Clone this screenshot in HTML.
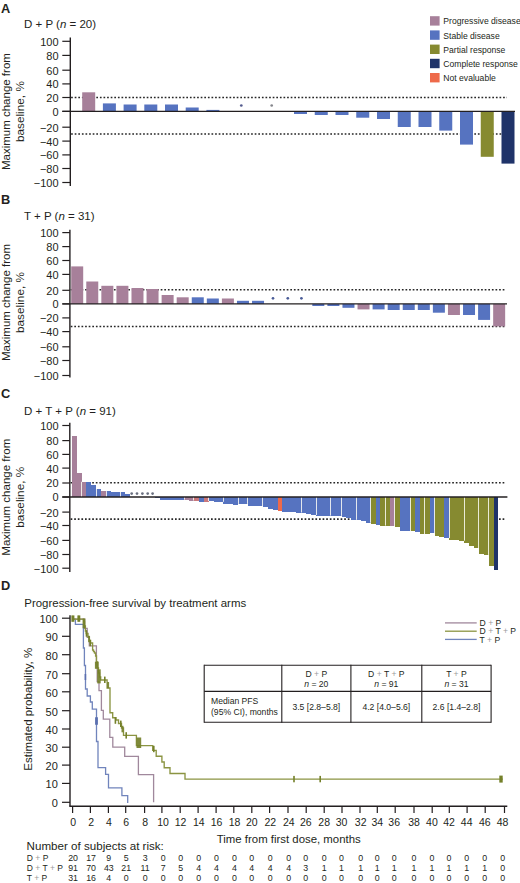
<!DOCTYPE html><html><head><meta charset="utf-8"><style>html,body{margin:0;padding:0;background:#fff;width:520px;height:883px;overflow:hidden}svg{display:block}</style></head><body>
<svg width="520" height="883" viewBox="0 0 520 883" font-family="'Liberation Sans', sans-serif">
<rect width="520" height="883" fill="#fff"/>
<text x="0.90" y="12.60" font-size="12.8" text-anchor="start" fill="#231f20" font-weight="bold">A</text>
<text x="24" y="27.90" font-size="11.5" fill="#231f20">D + P (<tspan font-style="italic">n</tspan> = 20)</text>
<line x1="71.10" y1="97.45" x2="507.00" y2="97.45" stroke="#262626" stroke-width="1.55" stroke-dasharray="1.7 1.9"/>
<line x1="71.10" y1="133.90" x2="507.00" y2="133.90" stroke="#262626" stroke-width="1.55" stroke-dasharray="1.7 1.9"/>
<rect x="82.20" y="92.30" width="13.00" height="19.05" fill="#a7809a" />
<rect x="102.90" y="103.40" width="13.00" height="7.95" fill="#5673c0" />
<rect x="123.60" y="104.50" width="13.00" height="6.85" fill="#5673c0" />
<rect x="144.30" y="104.50" width="13.00" height="6.85" fill="#5673c0" />
<rect x="165.00" y="104.50" width="13.00" height="6.85" fill="#5673c0" />
<rect x="185.70" y="107.50" width="13.00" height="3.85" fill="#5673c0" />
<rect x="206.40" y="109.90" width="13.00" height="1.45" fill="#5673c0" />
<rect x="294.00" y="111.35" width="13.00" height="2.65" fill="#5673c0" />
<rect x="314.75" y="111.35" width="13.00" height="3.65" fill="#5673c0" />
<rect x="335.50" y="111.35" width="13.00" height="3.65" fill="#5673c0" />
<rect x="356.25" y="111.35" width="13.00" height="6.35" fill="#5673c0" />
<rect x="377.00" y="111.35" width="13.00" height="7.65" fill="#5673c0" />
<rect x="397.75" y="111.35" width="13.00" height="15.65" fill="#5673c0" />
<rect x="418.50" y="111.35" width="13.00" height="15.65" fill="#5673c0" />
<rect x="439.25" y="111.35" width="13.00" height="19.25" fill="#5673c0" />
<rect x="460.00" y="111.35" width="13.00" height="33.25" fill="#5673c0" />
<rect x="480.75" y="111.35" width="13.00" height="45.45" fill="#868a30" />
<rect x="501.50" y="111.35" width="13.00" height="52.25" fill="#1f3369" />
<circle cx="241.30" cy="105.50" r="1.35" fill="#555c8f"/>
<circle cx="271.70" cy="105.50" r="1.35" fill="#85868c"/>
<line x1="62.30" y1="111.35" x2="515.00" y2="111.35" stroke="#231f20" stroke-width="1.3" />
<line x1="70.30" y1="37.50" x2="70.30" y2="186.10" stroke="#231f20" stroke-width="1.4" />
<line x1="62.30" y1="41.30" x2="70.30" y2="41.30" stroke="#231f20" stroke-width="1.2" />
<text x="58.60" y="45.70" font-size="11" text-anchor="end" fill="#231f20" >100</text>
<line x1="62.30" y1="55.40" x2="70.30" y2="55.40" stroke="#231f20" stroke-width="1.2" />
<text x="58.60" y="59.80" font-size="11" text-anchor="end" fill="#231f20" >80</text>
<line x1="62.30" y1="70.20" x2="70.30" y2="70.20" stroke="#231f20" stroke-width="1.2" />
<text x="58.60" y="74.60" font-size="11" text-anchor="end" fill="#231f20" >60</text>
<line x1="62.30" y1="83.90" x2="70.30" y2="83.90" stroke="#231f20" stroke-width="1.2" />
<text x="58.60" y="88.30" font-size="11" text-anchor="end" fill="#231f20" >40</text>
<line x1="62.30" y1="97.50" x2="70.30" y2="97.50" stroke="#231f20" stroke-width="1.2" />
<text x="58.60" y="101.90" font-size="11" text-anchor="end" fill="#231f20" >20</text>
<line x1="62.30" y1="111.35" x2="70.30" y2="111.35" stroke="#231f20" stroke-width="1.2" />
<text x="58.60" y="115.75" font-size="11" text-anchor="end" fill="#231f20" >0</text>
<line x1="62.30" y1="127.20" x2="70.30" y2="127.20" stroke="#231f20" stroke-width="1.2" />
<text x="58.60" y="131.60" font-size="11" text-anchor="end" fill="#231f20" >&#8722;20</text>
<line x1="62.30" y1="141.10" x2="70.30" y2="141.10" stroke="#231f20" stroke-width="1.2" />
<text x="58.60" y="145.50" font-size="11" text-anchor="end" fill="#231f20" >&#8722;40</text>
<line x1="62.30" y1="154.90" x2="70.30" y2="154.90" stroke="#231f20" stroke-width="1.2" />
<text x="58.60" y="159.30" font-size="11" text-anchor="end" fill="#231f20" >&#8722;60</text>
<line x1="62.30" y1="168.50" x2="70.30" y2="168.50" stroke="#231f20" stroke-width="1.2" />
<text x="58.60" y="172.90" font-size="11" text-anchor="end" fill="#231f20" >&#8722;80</text>
<line x1="62.30" y1="182.50" x2="70.30" y2="182.50" stroke="#231f20" stroke-width="1.2" />
<text x="58.60" y="186.90" font-size="11" text-anchor="end" fill="#231f20" >&#8722;100</text>
<text transform="translate(9.7,111.60) rotate(-90)" font-size="11.5" text-anchor="middle" fill="#231f20">Maximum change from</text>
<text transform="translate(23.6,111.60) rotate(-90)" font-size="11.8" text-anchor="middle" fill="#231f20">baseline, %</text>
<text x="0.90" y="203.70" font-size="12.8" text-anchor="start" fill="#231f20" font-weight="bold">B</text>
<text x="24" y="220.20" font-size="11.5" fill="#231f20">T + P (<tspan font-style="italic">n</tspan> = 31)</text>
<line x1="70.70" y1="289.80" x2="506.00" y2="289.80" stroke="#262626" stroke-width="1.55" stroke-dasharray="1.7 1.9"/>
<line x1="70.70" y1="326.50" x2="506.00" y2="326.50" stroke="#262626" stroke-width="1.55" stroke-dasharray="1.7 1.9"/>
<rect x="71.20" y="266.40" width="12.00" height="37.50" fill="#a7809a" />
<rect x="86.27" y="281.50" width="12.00" height="22.40" fill="#a7809a" />
<rect x="101.34" y="285.80" width="12.00" height="18.10" fill="#a7809a" />
<rect x="116.41" y="285.80" width="12.00" height="18.10" fill="#a7809a" />
<rect x="131.48" y="288.00" width="12.00" height="15.90" fill="#a7809a" />
<rect x="146.55" y="289.00" width="12.00" height="14.90" fill="#a7809a" />
<rect x="161.62" y="295.00" width="12.00" height="8.90" fill="#a7809a" />
<rect x="176.69" y="297.30" width="12.00" height="6.60" fill="#a7809a" />
<rect x="191.76" y="297.30" width="12.00" height="6.60" fill="#5673c0" />
<rect x="206.83" y="298.50" width="12.00" height="5.40" fill="#5673c0" />
<rect x="221.90" y="298.50" width="12.00" height="5.40" fill="#a7809a" />
<rect x="236.97" y="300.80" width="12.00" height="3.10" fill="#5673c0" />
<rect x="252.04" y="300.80" width="12.00" height="3.10" fill="#5673c0" />
<rect x="312.32" y="303.90" width="12.00" height="2.10" fill="#5673c0" />
<rect x="327.39" y="303.90" width="12.00" height="2.10" fill="#5673c0" />
<rect x="342.46" y="303.90" width="12.00" height="3.90" fill="#5673c0" />
<rect x="357.53" y="303.90" width="12.00" height="5.50" fill="#a7809a" />
<rect x="372.60" y="303.90" width="12.00" height="5.50" fill="#5673c0" />
<rect x="387.67" y="303.90" width="12.00" height="6.10" fill="#5673c0" />
<rect x="402.74" y="303.90" width="12.00" height="6.10" fill="#5673c0" />
<rect x="417.81" y="303.90" width="12.00" height="6.10" fill="#5673c0" />
<rect x="432.88" y="303.90" width="12.00" height="8.80" fill="#5673c0" />
<rect x="447.95" y="303.90" width="12.00" height="11.10" fill="#a7809a" />
<rect x="463.02" y="303.90" width="12.00" height="11.10" fill="#5673c0" />
<rect x="478.09" y="303.90" width="12.00" height="16.00" fill="#5673c0" />
<rect x="493.16" y="303.90" width="12.00" height="22.50" fill="#a7809a" />
<circle cx="273.00" cy="298.30" r="1.35" fill="#4a5c98"/>
<circle cx="287.80" cy="298.30" r="1.35" fill="#4a5c98"/>
<circle cx="301.40" cy="298.30" r="1.35" fill="#4a5c98"/>
<line x1="62.30" y1="303.90" x2="507.00" y2="303.90" stroke="#231f20" stroke-width="1.3" />
<line x1="69.90" y1="229.70" x2="69.90" y2="377.50" stroke="#231f20" stroke-width="1.4" />
<line x1="62.30" y1="232.60" x2="69.90" y2="232.60" stroke="#231f20" stroke-width="1.2" />
<text x="58.60" y="237.00" font-size="11" text-anchor="end" fill="#231f20" >100</text>
<line x1="62.30" y1="246.60" x2="69.90" y2="246.60" stroke="#231f20" stroke-width="1.2" />
<text x="58.60" y="251.00" font-size="11" text-anchor="end" fill="#231f20" >80</text>
<line x1="62.30" y1="260.50" x2="69.90" y2="260.50" stroke="#231f20" stroke-width="1.2" />
<text x="58.60" y="264.90" font-size="11" text-anchor="end" fill="#231f20" >60</text>
<line x1="62.30" y1="274.40" x2="69.90" y2="274.40" stroke="#231f20" stroke-width="1.2" />
<text x="58.60" y="278.80" font-size="11" text-anchor="end" fill="#231f20" >40</text>
<line x1="62.30" y1="290.30" x2="69.90" y2="290.30" stroke="#231f20" stroke-width="1.2" />
<text x="58.60" y="294.70" font-size="11" text-anchor="end" fill="#231f20" >20</text>
<line x1="62.30" y1="303.90" x2="69.90" y2="303.90" stroke="#231f20" stroke-width="1.2" />
<text x="58.60" y="308.30" font-size="11" text-anchor="end" fill="#231f20" >0</text>
<line x1="62.30" y1="317.90" x2="69.90" y2="317.90" stroke="#231f20" stroke-width="1.2" />
<text x="58.60" y="322.30" font-size="11" text-anchor="end" fill="#231f20" >&#8722;20</text>
<line x1="62.30" y1="331.60" x2="69.90" y2="331.60" stroke="#231f20" stroke-width="1.2" />
<text x="58.60" y="336.00" font-size="11" text-anchor="end" fill="#231f20" >&#8722;40</text>
<line x1="62.30" y1="346.80" x2="69.90" y2="346.80" stroke="#231f20" stroke-width="1.2" />
<text x="58.60" y="351.20" font-size="11" text-anchor="end" fill="#231f20" >&#8722;60</text>
<line x1="62.30" y1="360.50" x2="69.90" y2="360.50" stroke="#231f20" stroke-width="1.2" />
<text x="58.60" y="364.90" font-size="11" text-anchor="end" fill="#231f20" >&#8722;80</text>
<line x1="62.30" y1="375.50" x2="69.90" y2="375.50" stroke="#231f20" stroke-width="1.2" />
<text x="58.60" y="379.90" font-size="11" text-anchor="end" fill="#231f20" >&#8722;100</text>
<text transform="translate(9.7,302.50) rotate(-90)" font-size="11.5" text-anchor="middle" fill="#231f20">Maximum change from</text>
<text transform="translate(23.6,302.50) rotate(-90)" font-size="11.8" text-anchor="middle" fill="#231f20">baseline, %</text>
<text x="0.90" y="397.50" font-size="12.8" text-anchor="start" fill="#231f20" font-weight="bold">C</text>
<text x="24" y="414.50" font-size="11.5" fill="#231f20">D + T + P (<tspan font-style="italic">n</tspan> = 91)</text>
<line x1="70.60" y1="482.70" x2="505.60" y2="482.70" stroke="#262626" stroke-width="1.55" stroke-dasharray="1.7 1.9"/>
<line x1="70.60" y1="519.10" x2="505.60" y2="519.10" stroke="#262626" stroke-width="1.55" stroke-dasharray="1.7 1.9"/>
<rect x="72.30" y="435.90" width="4.70" height="61.10" fill="#a7809a" shape-rendering="crispEdges"/>
<rect x="77.00" y="473.10" width="4.60" height="23.90" fill="#a7809a" shape-rendering="crispEdges"/>
<rect x="81.60" y="481.80" width="4.70" height="15.20" fill="#a7809a" shape-rendering="crispEdges"/>
<rect x="86.30" y="482.10" width="4.70" height="14.90" fill="#5673c0" shape-rendering="crispEdges"/>
<rect x="91.00" y="485.20" width="5.30" height="11.80" fill="#5673c0" shape-rendering="crispEdges"/>
<rect x="96.30" y="489.00" width="4.70" height="8.00" fill="#5673c0" shape-rendering="crispEdges"/>
<rect x="101.00" y="491.10" width="4.80" height="5.90" fill="#a7809a" shape-rendering="crispEdges"/>
<rect x="105.80" y="491.10" width="4.80" height="5.90" fill="#5673c0" shape-rendering="crispEdges"/>
<rect x="110.60" y="491.60" width="5.00" height="5.40" fill="#5673c0" shape-rendering="crispEdges"/>
<rect x="115.60" y="492.00" width="5.00" height="5.00" fill="#5673c0" shape-rendering="crispEdges"/>
<rect x="120.60" y="492.00" width="4.80" height="5.00" fill="#5673c0" shape-rendering="crispEdges"/>
<rect x="125.40" y="494.00" width="4.80" height="3.00" fill="#5673c0" shape-rendering="crispEdges"/>
<rect x="154.80" y="497.00" width="4.90" height="1.20" fill="#5673c0" shape-rendering="crispEdges"/>
<rect x="159.70" y="497.00" width="4.90" height="2.60" fill="#5673c0" shape-rendering="crispEdges"/>
<rect x="164.60" y="497.00" width="4.90" height="2.60" fill="#5673c0" shape-rendering="crispEdges"/>
<rect x="169.50" y="497.00" width="4.90" height="2.60" fill="#5673c0" shape-rendering="crispEdges"/>
<rect x="174.40" y="497.00" width="5.00" height="2.60" fill="#5673c0" shape-rendering="crispEdges"/>
<rect x="179.40" y="497.00" width="5.00" height="2.60" fill="#5673c0" shape-rendering="crispEdges"/>
<rect x="184.40" y="497.00" width="4.80" height="3.00" fill="#a7809a" shape-rendering="crispEdges"/>
<rect x="189.20" y="497.00" width="4.40" height="3.50" fill="#a7809a" shape-rendering="crispEdges"/>
<rect x="193.60" y="497.00" width="5.20" height="3.80" fill="#c9787c" shape-rendering="crispEdges"/>
<rect x="198.80" y="497.00" width="5.20" height="4.50" fill="#5673c0" shape-rendering="crispEdges"/>
<rect x="204.00" y="497.00" width="4.70" height="4.50" fill="#c9787c" shape-rendering="crispEdges"/>
<rect x="208.70" y="497.00" width="4.90" height="4.00" fill="#5673c0" shape-rendering="crispEdges"/>
<rect x="213.60" y="497.00" width="4.90" height="4.80" fill="#5673c0" shape-rendering="crispEdges"/>
<rect x="218.50" y="497.00" width="4.90" height="4.80" fill="#5673c0" shape-rendering="crispEdges"/>
<rect x="223.40" y="497.00" width="4.90" height="6.50" fill="#5673c0" shape-rendering="crispEdges"/>
<rect x="228.30" y="497.00" width="4.90" height="7.00" fill="#5673c0" shape-rendering="crispEdges"/>
<rect x="233.20" y="497.00" width="4.90" height="7.50" fill="#5673c0" shape-rendering="crispEdges"/>
<rect x="238.10" y="497.00" width="4.80" height="6.90" fill="#5673c0" shape-rendering="crispEdges"/>
<rect x="242.90" y="497.00" width="4.70" height="6.90" fill="#5673c0" shape-rendering="crispEdges"/>
<rect x="247.60" y="497.00" width="5.00" height="9.10" fill="#5673c0" shape-rendering="crispEdges"/>
<rect x="252.60" y="497.00" width="5.00" height="9.10" fill="#5673c0" shape-rendering="crispEdges"/>
<rect x="257.60" y="497.00" width="5.00" height="9.40" fill="#5673c0" shape-rendering="crispEdges"/>
<rect x="262.60" y="497.00" width="5.00" height="10.30" fill="#5673c0" shape-rendering="crispEdges"/>
<rect x="267.60" y="497.00" width="5.00" height="11.50" fill="#5673c0" shape-rendering="crispEdges"/>
<rect x="272.60" y="497.00" width="5.10" height="12.60" fill="#5673c0" shape-rendering="crispEdges"/>
<rect x="277.70" y="497.00" width="3.80" height="14.30" fill="#ee6a4a" shape-rendering="crispEdges"/>
<rect x="281.50" y="497.00" width="4.90" height="14.60" fill="#5673c0" shape-rendering="crispEdges"/>
<rect x="286.40" y="497.00" width="4.90" height="14.80" fill="#5673c0" shape-rendering="crispEdges"/>
<rect x="291.30" y="497.00" width="4.90" height="15.20" fill="#5673c0" shape-rendering="crispEdges"/>
<rect x="296.20" y="497.00" width="5.30" height="15.50" fill="#5673c0" shape-rendering="crispEdges"/>
<rect x="301.50" y="497.00" width="4.90" height="16.40" fill="#5673c0" shape-rendering="crispEdges"/>
<rect x="306.40" y="497.00" width="4.90" height="17.20" fill="#5673c0" shape-rendering="crispEdges"/>
<rect x="311.30" y="497.00" width="5.00" height="18.00" fill="#5673c0" shape-rendering="crispEdges"/>
<rect x="316.30" y="497.00" width="4.90" height="19.00" fill="#5673c0" shape-rendering="crispEdges"/>
<rect x="321.20" y="497.00" width="4.90" height="19.00" fill="#5673c0" shape-rendering="crispEdges"/>
<rect x="326.10" y="497.00" width="4.90" height="19.00" fill="#5673c0" shape-rendering="crispEdges"/>
<rect x="331.00" y="497.00" width="5.20" height="18.60" fill="#5673c0" shape-rendering="crispEdges"/>
<rect x="336.20" y="497.00" width="5.30" height="18.80" fill="#5673c0" shape-rendering="crispEdges"/>
<rect x="341.50" y="497.00" width="4.80" height="19.50" fill="#5673c0" shape-rendering="crispEdges"/>
<rect x="346.30" y="497.00" width="4.90" height="21.00" fill="#5673c0" shape-rendering="crispEdges"/>
<rect x="351.20" y="497.00" width="4.80" height="23.00" fill="#5673c0" shape-rendering="crispEdges"/>
<rect x="356.00" y="497.00" width="5.00" height="22.80" fill="#5673c0" shape-rendering="crispEdges"/>
<rect x="361.00" y="497.00" width="4.90" height="24.30" fill="#5673c0" shape-rendering="crispEdges"/>
<rect x="365.90" y="497.00" width="4.90" height="25.70" fill="#5673c0" shape-rendering="crispEdges"/>
<rect x="370.80" y="497.00" width="4.80" height="26.70" fill="#868a30" shape-rendering="crispEdges"/>
<rect x="375.60" y="497.00" width="4.80" height="27.60" fill="#5673c0" shape-rendering="crispEdges"/>
<rect x="380.40" y="497.00" width="4.80" height="28.60" fill="#868a30" shape-rendering="crispEdges"/>
<rect x="385.20" y="497.00" width="4.90" height="28.60" fill="#868a30" shape-rendering="crispEdges"/>
<rect x="390.10" y="497.00" width="4.90" height="29.20" fill="#a7809a" shape-rendering="crispEdges"/>
<rect x="395.00" y="497.00" width="4.90" height="30.10" fill="#868a30" shape-rendering="crispEdges"/>
<rect x="399.90" y="497.00" width="5.00" height="34.30" fill="#5673c0" shape-rendering="crispEdges"/>
<rect x="404.90" y="497.00" width="5.10" height="34.30" fill="#5673c0" shape-rendering="crispEdges"/>
<rect x="410.00" y="497.00" width="4.80" height="34.00" fill="#868a30" shape-rendering="crispEdges"/>
<rect x="414.80" y="497.00" width="4.90" height="35.00" fill="#5673c0" shape-rendering="crispEdges"/>
<rect x="419.70" y="497.00" width="4.90" height="37.20" fill="#868a30" shape-rendering="crispEdges"/>
<rect x="424.60" y="497.00" width="4.90" height="37.10" fill="#868a30" shape-rendering="crispEdges"/>
<rect x="429.50" y="497.00" width="5.00" height="36.30" fill="#5673c0" shape-rendering="crispEdges"/>
<rect x="434.50" y="497.00" width="4.90" height="38.90" fill="#868a30" shape-rendering="crispEdges"/>
<rect x="439.40" y="497.00" width="4.90" height="40.00" fill="#868a30" shape-rendering="crispEdges"/>
<rect x="444.30" y="497.00" width="5.00" height="41.10" fill="#5673c0" shape-rendering="crispEdges"/>
<rect x="449.30" y="497.00" width="4.90" height="42.80" fill="#868a30" shape-rendering="crispEdges"/>
<rect x="454.20" y="497.00" width="4.90" height="42.80" fill="#868a30" shape-rendering="crispEdges"/>
<rect x="459.10" y="497.00" width="4.90" height="43.70" fill="#868a30" shape-rendering="crispEdges"/>
<rect x="464.00" y="497.00" width="5.00" height="45.80" fill="#868a30" shape-rendering="crispEdges"/>
<rect x="469.00" y="497.00" width="5.00" height="49.20" fill="#868a30" shape-rendering="crispEdges"/>
<rect x="474.00" y="497.00" width="5.00" height="51.00" fill="#868a30" shape-rendering="crispEdges"/>
<rect x="479.00" y="497.00" width="5.00" height="56.70" fill="#868a30" shape-rendering="crispEdges"/>
<rect x="484.00" y="497.00" width="5.00" height="57.90" fill="#868a30" shape-rendering="crispEdges"/>
<rect x="489.00" y="497.00" width="4.60" height="69.20" fill="#868a30" shape-rendering="crispEdges"/>
<rect x="493.60" y="497.00" width="4.80" height="73.20" fill="#1f3369" shape-rendering="crispEdges"/>
<circle cx="131.70" cy="493.60" r="1.35" fill="#6b7080"/>
<circle cx="137.00" cy="493.60" r="1.35" fill="#6b7080"/>
<circle cx="142.40" cy="493.60" r="1.35" fill="#6b7080"/>
<circle cx="147.70" cy="493.60" r="1.35" fill="#6b7080"/>
<circle cx="152.60" cy="493.60" r="1.35" fill="#6b7080"/>
<line x1="62.30" y1="497.00" x2="507.40" y2="497.00" stroke="#231f20" stroke-width="1.3" />
<line x1="69.80" y1="422.70" x2="69.80" y2="571.90" stroke="#231f20" stroke-width="1.4" />
<line x1="62.30" y1="425.50" x2="69.80" y2="425.50" stroke="#231f20" stroke-width="1.2" />
<text x="58.60" y="429.90" font-size="11" text-anchor="end" fill="#231f20" >100</text>
<line x1="62.30" y1="440.60" x2="69.80" y2="440.60" stroke="#231f20" stroke-width="1.2" />
<text x="58.60" y="445.00" font-size="11" text-anchor="end" fill="#231f20" >80</text>
<line x1="62.30" y1="454.40" x2="69.80" y2="454.40" stroke="#231f20" stroke-width="1.2" />
<text x="58.60" y="458.80" font-size="11" text-anchor="end" fill="#231f20" >60</text>
<line x1="62.30" y1="468.10" x2="69.80" y2="468.10" stroke="#231f20" stroke-width="1.2" />
<text x="58.60" y="472.50" font-size="11" text-anchor="end" fill="#231f20" >40</text>
<line x1="62.30" y1="483.00" x2="69.80" y2="483.00" stroke="#231f20" stroke-width="1.2" />
<text x="58.60" y="487.40" font-size="11" text-anchor="end" fill="#231f20" >20</text>
<line x1="62.30" y1="497.00" x2="69.80" y2="497.00" stroke="#231f20" stroke-width="1.2" />
<text x="58.60" y="501.40" font-size="11" text-anchor="end" fill="#231f20" >0</text>
<line x1="62.30" y1="512.10" x2="69.80" y2="512.10" stroke="#231f20" stroke-width="1.2" />
<text x="58.60" y="516.50" font-size="11" text-anchor="end" fill="#231f20" >&#8722;20</text>
<line x1="62.30" y1="525.50" x2="69.80" y2="525.50" stroke="#231f20" stroke-width="1.2" />
<text x="58.60" y="529.90" font-size="11" text-anchor="end" fill="#231f20" >&#8722;40</text>
<line x1="62.30" y1="540.40" x2="69.80" y2="540.40" stroke="#231f20" stroke-width="1.2" />
<text x="58.60" y="544.80" font-size="11" text-anchor="end" fill="#231f20" >&#8722;60</text>
<line x1="62.30" y1="554.50" x2="69.80" y2="554.50" stroke="#231f20" stroke-width="1.2" />
<text x="58.60" y="558.90" font-size="11" text-anchor="end" fill="#231f20" >&#8722;80</text>
<line x1="62.30" y1="568.20" x2="69.80" y2="568.20" stroke="#231f20" stroke-width="1.2" />
<text x="58.60" y="572.60" font-size="11" text-anchor="end" fill="#231f20" >&#8722;100</text>
<text transform="translate(9.7,497.20) rotate(-90)" font-size="11.5" text-anchor="middle" fill="#231f20">Maximum change from</text>
<text transform="translate(23.6,497.20) rotate(-90)" font-size="11.8" text-anchor="middle" fill="#231f20">baseline, %</text>
<rect x="81" y="481.80" width="1" height="14.40" fill="#fbfbf4" opacity="0.85"/>
<rect x="96" y="489.00" width="1" height="7.20" fill="#fbfbf4" opacity="0.85"/>
<rect x="106" y="491.10" width="1" height="5.10" fill="#fbfbf4" opacity="0.85"/>
<rect x="120" y="492.00" width="1" height="4.20" fill="#fbfbf4" opacity="0.85"/>
<rect x="184" y="497.80" width="1" height="1.80" fill="#fbfbf4" opacity="0.85"/>
<rect x="193" y="497.80" width="1" height="2.70" fill="#fbfbf4" opacity="0.85"/>
<rect x="208" y="497.80" width="1" height="3.20" fill="#fbfbf4" opacity="0.85"/>
<rect x="223" y="497.80" width="1" height="4.00" fill="#fbfbf4" opacity="0.85"/>
<rect x="238" y="497.80" width="1" height="6.10" fill="#fbfbf4" opacity="0.85"/>
<rect x="247" y="497.80" width="1" height="6.10" fill="#fbfbf4" opacity="0.85"/>
<rect x="262" y="497.80" width="1" height="8.60" fill="#fbfbf4" opacity="0.85"/>
<rect x="301" y="497.80" width="1" height="14.70" fill="#fbfbf4" opacity="0.85"/>
<rect x="316" y="497.80" width="1" height="17.20" fill="#fbfbf4" opacity="0.85"/>
<rect x="330" y="497.80" width="1" height="17.80" fill="#fbfbf4" opacity="0.85"/>
<rect x="341" y="497.80" width="1" height="18.00" fill="#fbfbf4" opacity="0.85"/>
<rect x="356" y="497.80" width="1" height="22.00" fill="#fbfbf4" opacity="0.85"/>
<rect x="370" y="497.80" width="1" height="24.90" fill="#fbfbf4" opacity="0.85"/>
<rect x="385" y="497.80" width="1" height="27.80" fill="#fbfbf4" opacity="0.85"/>
<rect x="394" y="497.80" width="1" height="28.40" fill="#fbfbf4" opacity="0.85"/>
<rect x="410" y="497.80" width="1" height="33.20" fill="#fbfbf4" opacity="0.85"/>
<rect x="424" y="497.80" width="1" height="36.30" fill="#fbfbf4" opacity="0.85"/>
<rect x="434" y="497.80" width="1" height="35.50" fill="#fbfbf4" opacity="0.85"/>
<rect x="449" y="497.80" width="1" height="40.30" fill="#fbfbf4" opacity="0.85"/>
<rect x="464" y="497.80" width="1" height="42.90" fill="#fbfbf4" opacity="0.85"/>
<rect x="478" y="497.80" width="1" height="50.20" fill="#fbfbf4" opacity="0.85"/>
<rect x="488" y="497.80" width="1" height="57.10" fill="#fbfbf4" opacity="0.85"/>
<rect x="430.00" y="16.20" width="9.60" height="9.40" fill="#a7809a" />
<text x="443.30" y="24.40" font-size="8.6" text-anchor="start" fill="#231f20" >Progressive disease</text>
<rect x="430.00" y="30.40" width="9.60" height="9.40" fill="#5673c0" />
<text x="443.30" y="38.60" font-size="8.6" text-anchor="start" fill="#231f20" >Stable disease</text>
<rect x="430.00" y="44.60" width="9.60" height="9.40" fill="#868a30" />
<text x="443.30" y="52.80" font-size="8.6" text-anchor="start" fill="#231f20" >Partial response</text>
<rect x="430.00" y="58.80" width="9.60" height="9.40" fill="#1f3369" />
<text x="443.30" y="67.00" font-size="8.6" text-anchor="start" fill="#231f20" >Complete response</text>
<rect x="430.00" y="73.00" width="9.60" height="9.40" fill="#ee6a4a" />
<text x="443.30" y="81.20" font-size="8.6" text-anchor="start" fill="#231f20" >Not evaluable</text>
<text x="0.90" y="589.70" font-size="12.8" text-anchor="start" fill="#231f20" font-weight="bold">D</text>
<text x="24.30" y="607.40" font-size="11.45" text-anchor="start" fill="#231f20" >Progression-free survival by treatment arms</text>
<line x1="70.00" y1="615.20" x2="70.00" y2="806.30" stroke="#231f20" stroke-width="1.4" />
<line x1="62.00" y1="802.30" x2="70.00" y2="802.30" stroke="#231f20" stroke-width="1.2" />
<text x="57.80" y="807.10" font-size="11" text-anchor="end" fill="#231f20" >0</text>
<line x1="62.00" y1="783.40" x2="70.00" y2="783.40" stroke="#231f20" stroke-width="1.2" />
<text x="57.80" y="788.20" font-size="11" text-anchor="end" fill="#231f20" >10</text>
<line x1="62.00" y1="765.10" x2="70.00" y2="765.10" stroke="#231f20" stroke-width="1.2" />
<text x="57.80" y="769.90" font-size="11" text-anchor="end" fill="#231f20" >20</text>
<line x1="62.00" y1="747.20" x2="70.00" y2="747.20" stroke="#231f20" stroke-width="1.2" />
<text x="57.80" y="752.00" font-size="11" text-anchor="end" fill="#231f20" >30</text>
<line x1="62.00" y1="729.00" x2="70.00" y2="729.00" stroke="#231f20" stroke-width="1.2" />
<text x="57.80" y="733.80" font-size="11" text-anchor="end" fill="#231f20" >40</text>
<line x1="62.00" y1="710.70" x2="70.00" y2="710.70" stroke="#231f20" stroke-width="1.2" />
<text x="57.80" y="715.50" font-size="11" text-anchor="end" fill="#231f20" >50</text>
<line x1="62.00" y1="691.80" x2="70.00" y2="691.80" stroke="#231f20" stroke-width="1.2" />
<text x="57.80" y="696.60" font-size="11" text-anchor="end" fill="#231f20" >60</text>
<line x1="62.00" y1="673.70" x2="70.00" y2="673.70" stroke="#231f20" stroke-width="1.2" />
<text x="57.80" y="678.50" font-size="11" text-anchor="end" fill="#231f20" >70</text>
<line x1="62.00" y1="654.70" x2="70.00" y2="654.70" stroke="#231f20" stroke-width="1.2" />
<text x="57.80" y="659.50" font-size="11" text-anchor="end" fill="#231f20" >80</text>
<line x1="62.00" y1="636.30" x2="70.00" y2="636.30" stroke="#231f20" stroke-width="1.2" />
<text x="57.80" y="641.10" font-size="11" text-anchor="end" fill="#231f20" >90</text>
<line x1="62.00" y1="618.20" x2="70.00" y2="618.20" stroke="#231f20" stroke-width="1.2" />
<text x="57.80" y="623.00" font-size="11" text-anchor="end" fill="#231f20" >100</text>
<text transform="translate(31.6,709.2) rotate(-90)" font-size="11.55" text-anchor="middle" fill="#231f20">Estimated probability, %</text>
<line x1="69.30" y1="806.30" x2="507.30" y2="806.30" stroke="#231f20" stroke-width="1.4" />
<line x1="72.60" y1="806.30" x2="72.60" y2="813.00" stroke="#231f20" stroke-width="1.2" />
<text x="73.10" y="826.00" font-size="10.5" text-anchor="middle" fill="#231f20" >0</text>
<line x1="90.40" y1="806.30" x2="90.40" y2="813.00" stroke="#231f20" stroke-width="1.2" />
<text x="91.10" y="826.00" font-size="10.5" text-anchor="middle" fill="#231f20" >2</text>
<line x1="108.40" y1="806.30" x2="108.40" y2="813.00" stroke="#231f20" stroke-width="1.2" />
<text x="108.80" y="826.00" font-size="10.5" text-anchor="middle" fill="#231f20" >4</text>
<line x1="125.70" y1="806.30" x2="125.70" y2="813.00" stroke="#231f20" stroke-width="1.2" />
<text x="126.20" y="826.00" font-size="10.5" text-anchor="middle" fill="#231f20" >6</text>
<line x1="144.60" y1="806.30" x2="144.60" y2="813.00" stroke="#231f20" stroke-width="1.2" />
<text x="145.10" y="826.00" font-size="10.5" text-anchor="middle" fill="#231f20" >8</text>
<line x1="161.90" y1="806.30" x2="161.90" y2="813.00" stroke="#231f20" stroke-width="1.2" />
<text x="163.10" y="826.00" font-size="10.5" text-anchor="middle" fill="#231f20" >10</text>
<line x1="180.20" y1="806.30" x2="180.20" y2="813.00" stroke="#231f20" stroke-width="1.2" />
<text x="180.60" y="826.00" font-size="10.5" text-anchor="middle" fill="#231f20" >12</text>
<line x1="198.10" y1="806.30" x2="198.10" y2="813.00" stroke="#231f20" stroke-width="1.2" />
<text x="198.80" y="826.00" font-size="10.5" text-anchor="middle" fill="#231f20" >14</text>
<line x1="216.10" y1="806.30" x2="216.10" y2="813.00" stroke="#231f20" stroke-width="1.2" />
<text x="216.50" y="826.00" font-size="10.5" text-anchor="middle" fill="#231f20" >16</text>
<line x1="233.80" y1="806.30" x2="233.80" y2="813.00" stroke="#231f20" stroke-width="1.2" />
<text x="234.50" y="826.00" font-size="10.5" text-anchor="middle" fill="#231f20" >18</text>
<line x1="251.80" y1="806.30" x2="251.80" y2="813.00" stroke="#231f20" stroke-width="1.2" />
<text x="251.80" y="826.00" font-size="10.5" text-anchor="middle" fill="#231f20" >20</text>
<line x1="269.60" y1="806.30" x2="269.60" y2="813.00" stroke="#231f20" stroke-width="1.2" />
<text x="270.30" y="826.00" font-size="10.5" text-anchor="middle" fill="#231f20" >22</text>
<line x1="288.00" y1="806.30" x2="288.00" y2="813.00" stroke="#231f20" stroke-width="1.2" />
<text x="288.80" y="826.00" font-size="10.5" text-anchor="middle" fill="#231f20" >24</text>
<line x1="306.20" y1="806.30" x2="306.20" y2="813.00" stroke="#231f20" stroke-width="1.2" />
<text x="305.80" y="826.00" font-size="10.5" text-anchor="middle" fill="#231f20" >26</text>
<line x1="324.20" y1="806.30" x2="324.20" y2="813.00" stroke="#231f20" stroke-width="1.2" />
<text x="324.20" y="826.00" font-size="10.5" text-anchor="middle" fill="#231f20" >28</text>
<line x1="342.00" y1="806.30" x2="342.00" y2="813.00" stroke="#231f20" stroke-width="1.2" />
<text x="341.50" y="826.00" font-size="10.5" text-anchor="middle" fill="#231f20" >30</text>
<line x1="360.00" y1="806.30" x2="360.00" y2="813.00" stroke="#231f20" stroke-width="1.2" />
<text x="360.70" y="826.00" font-size="10.5" text-anchor="middle" fill="#231f20" >32</text>
<line x1="377.30" y1="806.30" x2="377.30" y2="813.00" stroke="#231f20" stroke-width="1.2" />
<text x="377.30" y="826.00" font-size="10.5" text-anchor="middle" fill="#231f20" >34</text>
<line x1="395.20" y1="806.30" x2="395.20" y2="813.00" stroke="#231f20" stroke-width="1.2" />
<text x="394.20" y="826.00" font-size="10.5" text-anchor="middle" fill="#231f20" >36</text>
<line x1="414.00" y1="806.30" x2="414.00" y2="813.00" stroke="#231f20" stroke-width="1.2" />
<text x="414.00" y="826.00" font-size="10.5" text-anchor="middle" fill="#231f20" >38</text>
<line x1="432.20" y1="806.30" x2="432.20" y2="813.00" stroke="#231f20" stroke-width="1.2" />
<text x="431.90" y="826.00" font-size="10.5" text-anchor="middle" fill="#231f20" >40</text>
<line x1="449.30" y1="806.30" x2="449.30" y2="813.00" stroke="#231f20" stroke-width="1.2" />
<text x="449.00" y="826.00" font-size="10.5" text-anchor="middle" fill="#231f20" >42</text>
<line x1="467.10" y1="806.30" x2="467.10" y2="813.00" stroke="#231f20" stroke-width="1.2" />
<text x="466.70" y="826.00" font-size="10.5" text-anchor="middle" fill="#231f20" >44</text>
<line x1="485.20" y1="806.30" x2="485.20" y2="813.00" stroke="#231f20" stroke-width="1.2" />
<text x="484.80" y="826.00" font-size="10.5" text-anchor="middle" fill="#231f20" >46</text>
<line x1="504.50" y1="806.30" x2="504.50" y2="813.00" stroke="#231f20" stroke-width="1.2" />
<text x="502.60" y="826.00" font-size="10.5" text-anchor="middle" fill="#231f20" >48</text>
<text x="216.80" y="842.80" font-size="11.4" text-anchor="start" fill="#231f20" >Time from first dose, months</text>
<line x1="204.20" y1="664.80" x2="204.20" y2="722.70" stroke="#231f20" stroke-width="1.1" />
<line x1="281.80" y1="664.80" x2="281.80" y2="722.70" stroke="#231f20" stroke-width="1.1" />
<line x1="350.90" y1="664.80" x2="350.90" y2="722.70" stroke="#231f20" stroke-width="1.1" />
<line x1="421.80" y1="664.80" x2="421.80" y2="722.70" stroke="#231f20" stroke-width="1.1" />
<line x1="491.10" y1="664.80" x2="491.10" y2="722.70" stroke="#231f20" stroke-width="1.1" />
<line x1="204.20" y1="665.30" x2="491.10" y2="665.30" stroke="#231f20" stroke-width="1.1" />
<line x1="204.20" y1="691.40" x2="491.10" y2="691.40" stroke="#231f20" stroke-width="1.1" />
<line x1="204.20" y1="722.20" x2="491.10" y2="722.20" stroke="#231f20" stroke-width="1.1" />
<text x="316.35" y="677.20" font-size="8.6" text-anchor="middle" fill="#231f20" >D <tspan fill="#9a9a9a">+</tspan> P</text>
<text x="316.35" y="687.30" font-size="8.6" text-anchor="middle" fill="#231f20" ><tspan font-style="italic">n</tspan> = 20</text>
<text x="386.35" y="677.20" font-size="8.6" text-anchor="middle" fill="#231f20" >D <tspan fill="#9a9a9a">+</tspan> T <tspan fill="#9a9a9a">+</tspan> P</text>
<text x="386.35" y="687.30" font-size="8.6" text-anchor="middle" fill="#231f20" ><tspan font-style="italic">n</tspan> = 91</text>
<text x="456.45" y="677.20" font-size="8.6" text-anchor="middle" fill="#231f20" >T <tspan fill="#9a9a9a">+</tspan> P</text>
<text x="456.45" y="687.30" font-size="8.6" text-anchor="middle" fill="#231f20" ><tspan font-style="italic">n</tspan> = 31</text>
<text x="211.00" y="704.20" font-size="8.6" text-anchor="start" fill="#231f20" >Median PFS</text>
<text x="211.00" y="715.00" font-size="8.6" text-anchor="start" fill="#231f20" >(95% CI), months</text>
<text x="316.35" y="710.40" font-size="8.6" text-anchor="middle" fill="#231f20" >3.5 [2.8&#8211;5.8]</text>
<text x="386.35" y="710.40" font-size="8.6" text-anchor="middle" fill="#231f20" >4.2 [4.0&#8211;5.6]</text>
<text x="456.45" y="710.40" font-size="8.6" text-anchor="middle" fill="#231f20" >2.6 [1.4&#8211;2.8]</text>
<line x1="445.00" y1="622.90" x2="476.70" y2="622.90" stroke="#a0889c" stroke-width="1.3" />
<text x="479.60" y="626.10" font-size="8.6" text-anchor="start" fill="#231f20" >D <tspan fill="#9a9a9a">+</tspan> P</text>
<line x1="445.00" y1="631.20" x2="476.70" y2="631.20" stroke="#8b9442" stroke-width="1.3" />
<text x="479.60" y="634.40" font-size="8.6" text-anchor="start" fill="#231f20" >D <tspan fill="#9a9a9a">+</tspan> T <tspan fill="#9a9a9a">+</tspan> P</text>
<line x1="445.00" y1="639.40" x2="476.70" y2="639.40" stroke="#7084bc" stroke-width="1.3" />
<text x="479.60" y="642.60" font-size="8.6" text-anchor="start" fill="#231f20" >T <tspan fill="#9a9a9a">+</tspan> P</text>
<text x="26.60" y="849.80" font-size="11.6" text-anchor="start" fill="#231f20" >Number of subjects at risk:</text>
<text x="26.80" y="860.90" font-size="8.5" text-anchor="start" fill="#231f20" >D <tspan fill="#9a9a9a">+</tspan> P</text>
<text x="73.10" y="860.90" font-size="8.8" text-anchor="middle" fill="#231f20" >20</text>
<text x="91.10" y="860.90" font-size="8.8" text-anchor="middle" fill="#231f20" >17</text>
<text x="108.80" y="860.90" font-size="8.8" text-anchor="middle" fill="#231f20" >9</text>
<text x="126.20" y="860.90" font-size="8.8" text-anchor="middle" fill="#231f20" >5</text>
<text x="145.10" y="860.90" font-size="8.8" text-anchor="middle" fill="#231f20" >3</text>
<text x="163.10" y="860.90" font-size="8.8" text-anchor="middle" fill="#231f20" >0</text>
<text x="180.60" y="860.90" font-size="8.8" text-anchor="middle" fill="#231f20" >0</text>
<text x="198.80" y="860.90" font-size="8.8" text-anchor="middle" fill="#231f20" >0</text>
<text x="216.50" y="860.90" font-size="8.8" text-anchor="middle" fill="#231f20" >0</text>
<text x="234.50" y="860.90" font-size="8.8" text-anchor="middle" fill="#231f20" >0</text>
<text x="251.80" y="860.90" font-size="8.8" text-anchor="middle" fill="#231f20" >0</text>
<text x="270.30" y="860.90" font-size="8.8" text-anchor="middle" fill="#231f20" >0</text>
<text x="288.80" y="860.90" font-size="8.8" text-anchor="middle" fill="#231f20" >0</text>
<text x="305.80" y="860.90" font-size="8.8" text-anchor="middle" fill="#231f20" >0</text>
<text x="324.20" y="860.90" font-size="8.8" text-anchor="middle" fill="#231f20" >0</text>
<text x="341.50" y="860.90" font-size="8.8" text-anchor="middle" fill="#231f20" >0</text>
<text x="360.70" y="860.90" font-size="8.8" text-anchor="middle" fill="#231f20" >0</text>
<text x="377.30" y="860.90" font-size="8.8" text-anchor="middle" fill="#231f20" >0</text>
<text x="394.20" y="860.90" font-size="8.8" text-anchor="middle" fill="#231f20" >0</text>
<text x="414.00" y="860.90" font-size="8.8" text-anchor="middle" fill="#231f20" >0</text>
<text x="431.90" y="860.90" font-size="8.8" text-anchor="middle" fill="#231f20" >0</text>
<text x="449.00" y="860.90" font-size="8.8" text-anchor="middle" fill="#231f20" >0</text>
<text x="466.70" y="860.90" font-size="8.8" text-anchor="middle" fill="#231f20" >0</text>
<text x="484.80" y="860.90" font-size="8.8" text-anchor="middle" fill="#231f20" >0</text>
<text x="502.60" y="860.90" font-size="8.8" text-anchor="middle" fill="#231f20" >0</text>
<text x="26.80" y="870.70" font-size="8.5" text-anchor="start" fill="#231f20" >D <tspan fill="#9a9a9a">+</tspan> T <tspan fill="#9a9a9a">+</tspan> P</text>
<text x="73.10" y="870.70" font-size="8.8" text-anchor="middle" fill="#231f20" >91</text>
<text x="91.10" y="870.70" font-size="8.8" text-anchor="middle" fill="#231f20" >70</text>
<text x="108.80" y="870.70" font-size="8.8" text-anchor="middle" fill="#231f20" >43</text>
<text x="126.20" y="870.70" font-size="8.8" text-anchor="middle" fill="#231f20" >21</text>
<text x="145.10" y="870.70" font-size="8.8" text-anchor="middle" fill="#231f20" >11</text>
<text x="163.10" y="870.70" font-size="8.8" text-anchor="middle" fill="#231f20" >7</text>
<text x="180.60" y="870.70" font-size="8.8" text-anchor="middle" fill="#231f20" >5</text>
<text x="198.80" y="870.70" font-size="8.8" text-anchor="middle" fill="#231f20" >4</text>
<text x="216.50" y="870.70" font-size="8.8" text-anchor="middle" fill="#231f20" >4</text>
<text x="234.50" y="870.70" font-size="8.8" text-anchor="middle" fill="#231f20" >4</text>
<text x="251.80" y="870.70" font-size="8.8" text-anchor="middle" fill="#231f20" >4</text>
<text x="270.30" y="870.70" font-size="8.8" text-anchor="middle" fill="#231f20" >4</text>
<text x="288.80" y="870.70" font-size="8.8" text-anchor="middle" fill="#231f20" >4</text>
<text x="305.80" y="870.70" font-size="8.8" text-anchor="middle" fill="#231f20" >3</text>
<text x="324.20" y="870.70" font-size="8.8" text-anchor="middle" fill="#231f20" >1</text>
<text x="341.50" y="870.70" font-size="8.8" text-anchor="middle" fill="#231f20" >1</text>
<text x="360.70" y="870.70" font-size="8.8" text-anchor="middle" fill="#231f20" >1</text>
<text x="377.30" y="870.70" font-size="8.8" text-anchor="middle" fill="#231f20" >1</text>
<text x="394.20" y="870.70" font-size="8.8" text-anchor="middle" fill="#231f20" >1</text>
<text x="414.00" y="870.70" font-size="8.8" text-anchor="middle" fill="#231f20" >1</text>
<text x="431.90" y="870.70" font-size="8.8" text-anchor="middle" fill="#231f20" >1</text>
<text x="449.00" y="870.70" font-size="8.8" text-anchor="middle" fill="#231f20" >1</text>
<text x="466.70" y="870.70" font-size="8.8" text-anchor="middle" fill="#231f20" >1</text>
<text x="484.80" y="870.70" font-size="8.8" text-anchor="middle" fill="#231f20" >1</text>
<text x="502.60" y="870.70" font-size="8.8" text-anchor="middle" fill="#231f20" >0</text>
<text x="26.80" y="880.50" font-size="8.5" text-anchor="start" fill="#231f20" >T <tspan fill="#9a9a9a">+</tspan> P</text>
<text x="73.10" y="880.50" font-size="8.8" text-anchor="middle" fill="#231f20" >31</text>
<text x="91.10" y="880.50" font-size="8.8" text-anchor="middle" fill="#231f20" >16</text>
<text x="108.80" y="880.50" font-size="8.8" text-anchor="middle" fill="#231f20" >4</text>
<text x="126.20" y="880.50" font-size="8.8" text-anchor="middle" fill="#231f20" >0</text>
<text x="145.10" y="880.50" font-size="8.8" text-anchor="middle" fill="#231f20" >0</text>
<text x="163.10" y="880.50" font-size="8.8" text-anchor="middle" fill="#231f20" >0</text>
<text x="180.60" y="880.50" font-size="8.8" text-anchor="middle" fill="#231f20" >0</text>
<text x="198.80" y="880.50" font-size="8.8" text-anchor="middle" fill="#231f20" >0</text>
<text x="216.50" y="880.50" font-size="8.8" text-anchor="middle" fill="#231f20" >0</text>
<text x="234.50" y="880.50" font-size="8.8" text-anchor="middle" fill="#231f20" >0</text>
<text x="251.80" y="880.50" font-size="8.8" text-anchor="middle" fill="#231f20" >0</text>
<text x="270.30" y="880.50" font-size="8.8" text-anchor="middle" fill="#231f20" >0</text>
<text x="288.80" y="880.50" font-size="8.8" text-anchor="middle" fill="#231f20" >0</text>
<text x="305.80" y="880.50" font-size="8.8" text-anchor="middle" fill="#231f20" >0</text>
<text x="324.20" y="880.50" font-size="8.8" text-anchor="middle" fill="#231f20" >0</text>
<text x="341.50" y="880.50" font-size="8.8" text-anchor="middle" fill="#231f20" >0</text>
<text x="360.70" y="880.50" font-size="8.8" text-anchor="middle" fill="#231f20" >0</text>
<text x="377.30" y="880.50" font-size="8.8" text-anchor="middle" fill="#231f20" >0</text>
<text x="394.20" y="880.50" font-size="8.8" text-anchor="middle" fill="#231f20" >0</text>
<text x="414.00" y="880.50" font-size="8.8" text-anchor="middle" fill="#231f20" >0</text>
<text x="431.90" y="880.50" font-size="8.8" text-anchor="middle" fill="#231f20" >0</text>
<text x="449.00" y="880.50" font-size="8.8" text-anchor="middle" fill="#231f20" >0</text>
<text x="466.70" y="880.50" font-size="8.8" text-anchor="middle" fill="#231f20" >0</text>
<text x="484.80" y="880.50" font-size="8.8" text-anchor="middle" fill="#231f20" >0</text>
<text x="502.60" y="880.50" font-size="8.8" text-anchor="middle" fill="#231f20" >0</text>
<path d="M72.80 619.10 H75.40 V624.40 H83.40 V648.00 H84.40 V665.50 H85.50 V689.00 H87.20 V696.00 H90.40 V702.00 H92.30 V709.20 H96.50 V741.50 H98.00 V767.70 H105.60 V774.40 H108.50 V787.90 H121.90 V795.60 H127.70 V803.00" fill="none" stroke="#7084bc" stroke-width="1.3"/>
<path d="M72.80 619.10 H84.60 V628.30 H87.20 V637.40 H89.30 V645.80 H96.40 V665.00 H97.20 V681.60 H99.00 V690.70 H101.40 V710.40 H103.30 V719.20 H109.80 V737.30 H112.80 V747.20 H124.70 V756.40 H138.40 V774.60 H153.60 V802.30" fill="none" stroke="#a0889c" stroke-width="1.3"/>
<path d="M72.80 619.10 H83.60 V622.00 H84.50 V626.00 H85.40 V631.00 H86.20 V633.50 H88.00 V637.00 H89.40 V640.50 H90.50 V643.00 H92.60 V650.00 H93.50 V651.50 H94.50 V653.00 H95.60 V656.00 H96.50 V662.00 H97.50 V668.00 H98.50 V673.00 H99.50 V677.00 H100.70 V680.00 H107.10 V688.00 H110.00 V712.70 H112.70 V717.70 H116.00 V720.00 H118.50 V723.50 H121.50 V728.00 H123.50 V735.40 H136.40 V745.60 H152.70 V750.40 H156.20 V756.20 H161.90 V762.00 H164.20 V767.70 H170.00 V773.50 H185.00 V779.10 H502.7" fill="none" stroke="#8b9442" stroke-width="1.35"/>
<rect x="71.40" y="615.40" width="1.60" height="6.40" fill="#74802a" />
<rect x="72.80" y="615.40" width="1.60" height="6.40" fill="#74802a" />
<rect x="77.40" y="615.40" width="1.60" height="6.40" fill="#74802a" />
<rect x="78.70" y="615.40" width="1.60" height="6.40" fill="#74802a" />
<rect x="85.70" y="630.30" width="1.60" height="6.40" fill="#74802a" />
<rect x="88.20" y="635.80" width="1.60" height="6.40" fill="#74802a" />
<rect x="89.50" y="639.80" width="1.60" height="6.40" fill="#74802a" />
<rect x="104.00" y="676.60" width="1.60" height="6.40" fill="#74802a" />
<rect x="114.60" y="717.40" width="1.60" height="6.40" fill="#74802a" />
<rect x="120.00" y="720.60" width="1.60" height="6.40" fill="#74802a" />
<rect x="125.40" y="732.20" width="1.60" height="6.40" fill="#74802a" />
<rect x="153.00" y="745.80" width="1.60" height="6.40" fill="#74802a" />
<rect x="293.20" y="775.90" width="1.60" height="6.40" fill="#74802a" />
<rect x="319.40" y="775.90" width="1.60" height="6.40" fill="#74802a" />
<rect x="499.30" y="775.60" width="3.40" height="7.00" fill="#74802a" />
<rect x="82.60" y="618.50" width="2.80" height="9.80" fill="#74802a" opacity="0.92"/>
<rect x="94.90" y="661.70" width="3.80" height="7.10" fill="#74802a" opacity="0.92"/>
<rect x="97.20" y="669.30" width="3.50" height="14.10" fill="#74802a" opacity="0.92"/>
<rect x="107.10" y="682.00" width="2.00" height="6.20" fill="#74802a" opacity="0.92"/>
<rect x="121.50" y="725.80" width="2.00" height="6.50" fill="#74802a" opacity="0.92"/>
<rect x="136.50" y="737.50" width="4.70" height="10.50" fill="#74802a" opacity="0.92"/>
<rect x="84.60" y="674.00" width="1.60" height="6.00" fill="#5a6fb0" />
<rect x="95.10" y="717.25" width="2.80" height="7.50" fill="#5a6fb0" />
</svg></body></html>
